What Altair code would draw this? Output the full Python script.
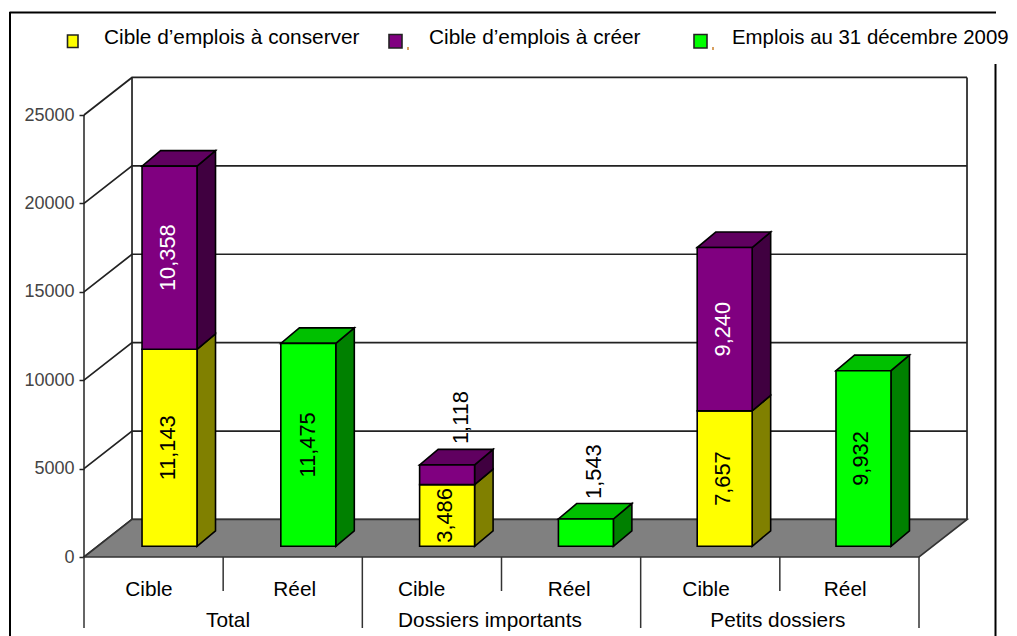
import altair as alt
import pandas as pd

# ---- chart values
bar_names = ["Cible", "Réel", "Cible", "Réel", "Cible", "Réel"]
group_names = ["Total", "Dossiers importants", "Petits dossiers"]
keep_values = [11143, 0, 3486, 0, 7657, 0]
create_values = [10358, 0, 1118, 0, 9240, 0]
actual_values = [0, 11475, 0, 1543, 0, 9932]
legend_names = ["Cible d’emplois à conserver", "Cible d’emplois à créer", "Emplois au 31 décembre 2009"]
tick_values = [0, 5000, 10000, 15000, 20000, 25000]

# ---- 3D look, in data units
WALL_DX, WALL_DY = 0.345, 2123
BAR_DX, BAR_DY = 0.133, 878
BAR_LEFT, BAR_STEP, BAR_W, BAR_BASE = 0.417, 0.9973, 0.395, 606
OUTSIDE_PAD = 1800
SCHEMES = {
    "keep": ("#ffff00", "#808000", "#c0c000"),
    "create": ("#800080", "#400040", "#600060"),
    "actual": ("#00ff00", "#008000", "#00c000"),
}
FONT = "Liberation Sans"
X0, Y0 = 84, 115  # page position of the plot area's corner

xs = alt.Scale(domain=[0, 6], nice=False, zero=False)
ys = alt.Scale(domain=[0, 25000], nice=False, zero=False)
axis = alt.Axis(values=tick_values, domain=False, grid=False, title=None, tickSize=5, tickColor="#222222",
                tickWidth=1.5, labelFont=FONT, labelFontSize=18, labelColor="#444444", labelPadding=5,
                format="d", labelOverlap=False)
X = lambda f: alt.X(f, type="quantitative", scale=xs, axis=None)
Y = lambda f: alt.Y(f, type="quantitative", scale=ys, stack=None, axis=axis)
YD = lambda v: alt.YDatum(v, scale=ys, axis=axis)

# ---- segments
label_nudge = {(0, "keep"): -0.01, (0, "create"): -0.01, (1, "actual"): 0.0, (2, "keep"): -0.012,
               (2, "create"): 0.1, (3, "actual"): 0.06, (4, "keep"): -0.012, (4, "create"): -0.012,
               (5, "actual"): -0.02}
segs = []
for i in range(6):
    bottom = BAR_BASE
    total = keep_values[i] + create_values[i] + actual_values[i]
    for kind, vals in (("keep", keep_values), ("create", create_values), ("actual", actual_values)):
        v = vals[i]
        if not v:
            continue
        left = BAR_LEFT + i * BAR_STEP
        segs.append(dict(i=i, kind=kind, v=v, left=left, right=left + BAR_W,
                         bot=bottom, top=bottom + v, is_top=bottom + v == BAR_BASE + total))
        bottom += v
segs_df = pd.DataFrame(segs)

front_rows, side_rows, top_rows, label_rows = [], [], [], []
for n, s in segs_df.iterrows():
    front_rows.append(dict(seg=n, color=SCHEMES[s.kind][0], x=s.left, x2=s.right, y=s.bot, y2=s.top))
    side_rows += [dict(seg=n, color=SCHEMES[s.kind][1], x=s.right, y=s.bot, y2=s.top),
                  dict(seg=n, color=SCHEMES[s.kind][1], x=s.right + BAR_DX, y=s.bot + BAR_DY, y2=s.top + BAR_DY)]
    if s.is_top:
        top_rows += [dict(seg=n, color=SCHEMES[s.kind][2], x=s.left, x2=s.right, y=s.top),
                     dict(seg=n, color=SCHEMES[s.kind][2], x=s.left + BAR_DX, x2=s.right + BAR_DX, y=s.top + BAR_DY)]
    outside = s.v < 2000
    ly = s.top + BAR_DY + OUTSIDE_PAD if outside else (s.bot + s.top) / 2
    label_rows.append(dict(x=(s.left + s.right) / 2 + label_nudge[(s.i, s.kind)], y=ly, text=f"{s.v:,}",
                           color="#ffffff" if s.kind == "create" and not outside else "#000000"))

color_id = alt.Color("color:N", scale=None, legend=None)
edge = dict(stroke="#000000", strokeWidth=1.6, strokeJoin="miter")

fronts = alt.Chart(pd.DataFrame(front_rows)).mark_rect(**edge).encode(
    x=X("x"), x2="x2", y=Y("y"), y2="y2", color=color_id)
sides = alt.Chart(pd.DataFrame(side_rows)).mark_area(**edge).encode(
    x=X("x"), y=Y("y"), y2="y2", detail="seg:N", color=color_id)
tops = alt.Chart(pd.DataFrame(top_rows)).mark_area(orient="horizontal", **edge).encode(
    y=Y("y"), x=X("x"), x2="x2", detail="seg:N", color=color_id)
values = alt.Chart(pd.DataFrame(label_rows)).mark_text(
    angle=270, align="center", baseline="middle", font=FONT, fontSize=21.8).encode(
    x=X("x"), y=Y("y"), text="text:N", color=color_id)

# ---- walls and floor
floor = alt.Chart(pd.DataFrame([
    dict(x=0, x2=6, y=0), dict(x=WALL_DX, x2=6 + WALL_DX, y=WALL_DY)
])).mark_area(orient="horizontal", color="#808080", stroke="#333333", strokeWidth=1.6).encode(
    y=Y("y"), x=X("x"), x2="x2")

grid_rows = []
for v in tick_values:
    grid_rows += [dict(level=v, x=0, y=v), dict(level=v, x=WALL_DX, y=v + WALL_DY),
                  dict(level=v, x=6 + WALL_DX, y=v + WALL_DY)]
grid = alt.Chart(pd.DataFrame(grid_rows)).mark_line(color="#222222", strokeWidth=1.7).encode(
    x=X("x"), y=Y("y"), detail="level:N")

walls = alt.Chart(pd.DataFrame([dict(x=WALL_DX), dict(x=6 + WALL_DX)])).mark_rule(
    color="#222222", strokeWidth=1.7).encode(
    x=X("x"), y=YD(WALL_DY), y2=alt.Y2Datum(25000 + WALL_DY))

# ---- dividers under the floor
div_df = pd.DataFrame([dict(x=j, long=j % 2 == 0) for j in range(7)])
div_long = alt.Chart(div_df[div_df.long]).mark_rule(color="#333333", strokeWidth=1.5).encode(
    x=X("x"), y=YD(0), y2=alt.value(628 - Y0))
div_short = alt.Chart(div_df[~div_df.long]).mark_rule(color="#333333", strokeWidth=1.5).encode(
    x=X("x"), y=YD(0), y2=alt.value(591 - Y0))
axis_line = alt.Chart(pd.DataFrame({"x": [0]})).mark_rule(color="#222222", strokeWidth=1.5).encode(
    x=X("x"), y=YD(25000), y2=alt.Y2Datum(0))

# ---- category labels
cat_nudge = [-0.033, 0.014, -0.074, -0.014, -0.03, -0.03]
grp_nudge = [0.035, -0.083, -0.014]
cat_df = pd.DataFrame({"x": [i + 0.5 + n for i, n in enumerate(cat_nudge)], "t": bar_names})
grp_df = pd.DataFrame({"x": [2 * j + 1 + n for j, n in enumerate(grp_nudge)], "t": group_names})
txt = dict(font=FONT, fontSize=20.8, color="#000000", align="center", baseline="middle")
cat_text = alt.Chart(cat_df).mark_text(**txt).encode(x=X("x"), y=alt.value(590 - Y0), text="t:N")
grp_text = alt.Chart(grp_df).mark_text(**txt).encode(x=X("x"), y=alt.value(621 - Y0), text="t:N")

# ---- frame (open on the right beside the legend)
frame = []
for a, b, c, d in [(9.5, 996, 12.5, 12.5), (10, 10, 12, 636), (995.5, 995.5, 64, 636)]:
    frame.append(alt.Chart(pd.DataFrame({"a": [1]})).mark_rule(color="#000000", strokeWidth=2).encode(
        x=alt.value(a - X0), x2=alt.value(b - X0), y=alt.value(c - Y0), y2=alt.value(d - Y0)))

# ---- legend
legend_layers = []
for name, color, box, tx, fs in zip(
        legend_names, ["#ffff00", "#800080", "#00ff00"],
        [(67.5, 78, 35, 47.5), (389, 402, 34.5, 48), (694, 707, 34.5, 48)],
        [104, 429, 732], [20.8, 20.8, 20.4]):
    legend_layers.append(alt.Chart(pd.DataFrame({"t": [name]})).mark_rect(
        color=color, stroke="#222222", strokeWidth=1.6).encode(
        x=alt.value(box[0] - X0), x2=alt.value(box[1] - X0), y=alt.value(box[2] - Y0), y2=alt.value(box[3] - Y0)))
    legend_layers.append(alt.Chart(pd.DataFrame({"t": [name]})).mark_text(
        font=FONT, fontSize=fs, color="#000000", align="left", baseline="middle").encode(
        x=alt.value(tx - X0), y=alt.value(38 - Y0), text="t:N"))
for sx in (408, 713):
    legend_layers.append(alt.Chart(pd.DataFrame({"a": [1]})).mark_rule(color="#d8a060", strokeWidth=2).encode(
        x=alt.value(sx - X0), y=alt.value(47 - Y0), y2=alt.value(50 - Y0)))

chart = alt.layer(grid, walls, floor, axis_line, div_long, div_short,
                  sides, tops, fronts, values, cat_text, grp_text, *frame, *legend_layers).properties(
    width=835, height=442,
    padding={"left": X0 - 8, "top": Y0 - 8, "right": 90, "bottom": 79},
    autosize=alt.AutoSizeParams(type="none"),
    background="white",
).configure_view(stroke=None)

chart.save("out.html", embed_options={"renderer": "svg", "actions": False})
